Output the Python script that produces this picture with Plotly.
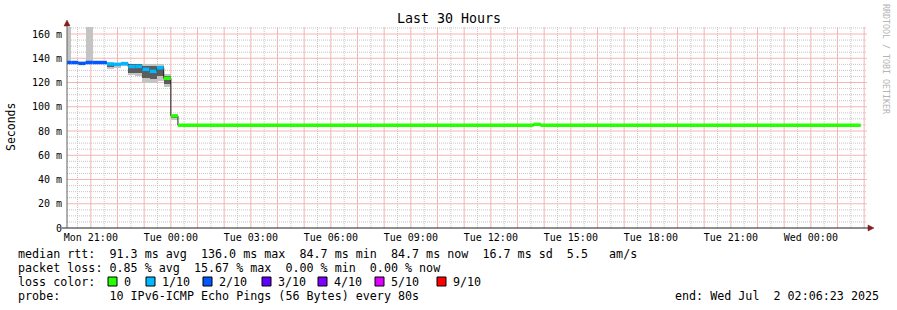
import plotly.graph_objects as go
import pandas as pd

# ---------------- data ----------------
run_start = ["2025-06-30 20:00", "2025-06-30 20:16", "2025-06-30 20:32", "2025-06-30 20:48",
             "2025-06-30 21:04", "2025-06-30 21:36", "2025-06-30 21:52", "2025-06-30 22:08",
             "2025-06-30 22:24", "2025-06-30 22:40", "2025-06-30 22:56", "2025-06-30 23:12",
             "2025-06-30 23:28", "2025-06-30 23:44", "2025-07-01 00:00", "2025-07-01 00:16",
             "2025-07-01 13:36", "2025-07-01 13:52"]
run_end = ["2025-06-30 20:16", "2025-06-30 20:32", "2025-06-30 20:48", "2025-06-30 21:04",
           "2025-06-30 21:36", "2025-06-30 21:52", "2025-06-30 22:08", "2025-06-30 22:24",
           "2025-06-30 22:40", "2025-06-30 22:56", "2025-06-30 23:12", "2025-06-30 23:28",
           "2025-06-30 23:44", "2025-07-01 00:00", "2025-07-01 00:16", "2025-07-01 13:36",
           "2025-07-01 13:52", "2025-07-02 01:52"]
median_ms = [136.5, 136.5, 135.8, 136.5, 136.5, 135.3, 135.0, 135.6, 133.2, 133.3,
             130.9, 129.2, 132.2, 123.5, 92.5, 84.7, 85.5, 84.7]
loss_count = [2, 2, 2, 2, 2, 1, 1, 1, 1, 1, 1, 1, 1, 0, 0, 0, 0, 0]
smoke_lo = [136.5, None, None, 136.5, None, 131.0, 132.0, 133.5, 126.0, 125.5,
            120.0, 120.0, 121.5, 116.0, 89.5, None, None, None]
smoke_hi = [175.0, None, None, 175.0, None, 136.5, 136.0, 136.5, 135.5, 135.5,
            135.0, 135.0, 135.5, 127.0, 93.0, None, None, None]
core_lo = [None, None, None, None, None, 133.0, 133.5, 134.5, 128.0, 128.0,
           123.5, 123.0, 125.0, 118.5, 91.0, None, None, None]
core_hi = [None, None, None, None, None, 135.5, 135.5, 136.0, 135.0, 135.0,
           134.0, 133.5, 134.0, 125.5, 92.5, None, None, None]

loss_labels = ["0", "1/10", "2/10", "3/10", "4/10", "5/10", "9/10"]
loss_colors = ["#26ff00", "#00b8ff", "#0059ff", "#5e00ff", "#7e00ff", "#dd00ff", "#ff0000"]

y_ticks = [0, 20, 40, 60, 80, 100, 120, 140, 160]
y_ticktext = ["0", "20 m", "40 m", "60 m", "80 m", "100 m", "120 m", "140 m", "160 m"]

stats_lines = [
    "median rtt:  91.3 ms avg  136.0 ms max  84.7 ms min  84.7 ms now  16.7 ms sd  5.5   am/s",
    "packet loss: 0.85 % avg  15.67 % max  0.00 % min  0.00 % now",
    "loss color:",
    "probe:       10 IPv6-ICMP Echo Pings (56 Bytes) every 80s",
]
end_text = "end: Wed Jul  2 02:06:23 2025"
title_text = "Last 30 Hours"

t_start = "2025-06-30 20:06:23"
t_end = "2025-07-02 02:06:23"

# ---------------- layout geometry ----------------
W, H = 897, 310
L, R, T, B = 67, 867, 27, 228
YMAX = 165.8
MONO = "DejaVu Sans Mono"


def px(x):
    return (x - L) / (R - L)


def py(y):
    return (B - y) / (B - T)


def ms(t):
    return pd.Timestamp(t)


fig = go.Figure()

# smoke (outer)
for s, e, lo, hi in zip(run_start, run_end, smoke_lo, smoke_hi):
    if lo is None:
        continue
    w = (ms(e) - ms(s)).total_seconds() * 1000
    fig.add_trace(go.Bar(x=[s], y=[hi - lo], base=[lo], width=[w], offset=0,
                         marker=dict(color="#c4c4c4", line=dict(width=0)),
                         hoverinfo="skip", showlegend=False))
# smoke (core)
for s, e, lo, hi in zip(run_start, run_end, core_lo, core_hi):
    if lo is None:
        continue
    w = (ms(e) - ms(s)).total_seconds() * 1000
    fig.add_trace(go.Bar(x=[s], y=[hi - lo], base=[lo], width=[w], offset=0,
                         marker=dict(color="#5c5c5c", line=dict(width=0)),
                         hoverinfo="skip", showlegend=False))

# thin black median (step line)
fig.add_trace(go.Scatter(x=run_start + [run_end[-1]], y=median_ms + [median_ms[-1]],
                         mode="lines", line=dict(color="#202020", width=1, shape="hv"),
                         hoverinfo="skip", showlegend=False))

# coloured median segments by loss
for li, col in enumerate(loss_colors):
    xs, ys = [], []
    for s, e, m, lc in zip(run_start, run_end, median_ms, loss_count):
        if lc == li:
            xs += [s, e, None]
            ys += [m, m, None]
    if xs:
        fig.add_trace(go.Scatter(x=xs, y=ys, mode="lines",
                                 line=dict(color=col, width=3.5),
                                 hoverinfo="skip", showlegend=False))

# ---------------- axes ----------------
major_x = pd.date_range("2025-06-30 21:00", "2025-07-02 02:00", freq="h")
major_txt = [d.strftime("%a %H:%M") if d.hour % 3 == 0 else "" for d in major_x]
minor_x = pd.date_range("2025-06-30 20:30", "2025-07-02 02:00", freq="h")
minor_y = [v for v in range(5, 170, 5) if v % 20 != 0]

MAJ = "#f6b4b4"
MIN = "#c6c6c6"
DASH = "1px,1px"

fig.update_xaxes(type="date", range=[t_start, t_end],
                 tickmode="array", tickvals=list(major_x), ticktext=major_txt,
                 showgrid=False, ticks="", ticklabelstandoff=2,
                 tickfont=dict(family=MONO, size=10, color="#000"),
                 zeroline=False, showline=False, fixedrange=True)
fig.update_yaxes(range=[0, YMAX], tickmode="array", tickvals=y_ticks, ticktext=y_ticktext,
                 showgrid=False, ticks="", ticklabelstandoff=4,
                 tickfont=dict(family=MONO, size=10, color="#000"),
                 zeroline=False, showline=False, fixedrange=True)

# ---------------- shapes: grid, axis lines, arrows, legend boxes ----------------
shapes = []
for t in minor_x:
    shapes.append(dict(type="line", xref="x", yref="paper", x0=t, x1=t, y0=0, y1=1,
                       line=dict(color=MIN, width=1, dash=DASH), layer="below"))
for v in minor_y:
    shapes.append(dict(type="line", xref="paper", yref="y", x0=0, x1=1, y0=v, y1=v,
                       line=dict(color=MIN, width=1, dash=DASH), layer="below"))
for t in major_x:
    shapes.append(dict(type="line", xref="x", yref="paper", x0=t, x1=t, y0=0, y1=1,
                       line=dict(color=MAJ, width=1), layer="below"))
for v in y_ticks[1:]:
    shapes.append(dict(type="line", xref="paper", yref="y", x0=0, x1=1, y0=v, y1=v,
                       line=dict(color=MAJ, width=1), layer="below"))

shapes.append(dict(type="line", xref="paper", yref="paper", x0=px(62), x1=px(868),
                   y0=0, y1=0, line=dict(color="#1f1f1f", width=1), layer="above"))
shapes.append(dict(type="line", xref="paper", yref="paper", x0=0, x1=0,
                   y0=0, y1=py(23), line=dict(color="#606060", width=1), layer="above"))
ARROW = "#801f1f"
shapes.append(dict(type="path", xref="paper", yref="paper",
                   path=f"M {px(64)} {py(26)} L {px(70)} {py(26)} L {px(67)} {py(20)} Z",
                   fillcolor=ARROW, line=dict(color=ARROW, width=0.5), layer="above"))
shapes.append(dict(type="path", xref="paper", yref="paper",
                   path=f"M {px(868)} {py(225)} L {px(868)} {py(231)} L {px(874)} {py(228)} Z",
                   fillcolor=ARROW, line=dict(color=ARROW, width=0.5), layer="above"))

box_x = [108, 146, 203, 262, 318, 375, 437]
annotations = []
for bx, lab, col in zip(box_x, loss_labels, loss_colors):
    shapes.append(dict(type="rect", xref="paper", yref="paper",
                       x0=px(bx), x1=px(bx + 9), y0=py(286), y1=py(277),
                       fillcolor=col, line=dict(color="#000", width=1)))
    annotations.append(dict(text=lab, xref="paper", yref="paper", x=px(bx + 14), y=py(282),
                            xanchor="left", yanchor="middle", showarrow=False,
                            font=dict(family=MONO, size=11.7, color="#000")))

# ---------------- text ----------------
line_y = [254, 268, 282, 296]
for txt, yy in zip(stats_lines, line_y):
    annotations.append(dict(text=txt.replace(" ", "\u00a0"), xref="paper", yref="paper",
                            x=px(16), y=py(yy), xanchor="left", yanchor="middle",
                            showarrow=False, font=dict(family=MONO, size=11.7, color="#000")))
annotations.append(dict(text=end_text.replace(" ", "\u00a0"), xref="paper", yref="paper",
                        x=px(881), y=py(296), xanchor="right", yanchor="middle",
                        showarrow=False, font=dict(family=MONO, size=11.7, color="#000")))
annotations.append(dict(text=title_text, xref="paper", yref="paper", x=px(448.5), y=py(19),
                        xanchor="center", yanchor="middle", showarrow=False,
                        font=dict(family=MONO, size=13.3, color="#000")))
annotations.append(dict(text="Seconds", xref="paper", yref="paper", x=px(11), y=py(127),
                        xanchor="center", yanchor="middle", textangle=-90, showarrow=False,
                        font=dict(family=MONO, size=11.5, color="#000")))
annotations.append(dict(text="RRDTOOL\u00a0/\u00a0TOBI\u00a0OETIKER", xref="paper", yref="paper",
                        x=px(886), y=py(59), xanchor="center", yanchor="middle", textangle=90,
                        showarrow=False, font=dict(family=MONO, size=8.3, color="#b4b4b4")))

fig.update_layout(width=W, height=H, margin=dict(l=L, r=W - R, t=T, b=H - B),
                  paper_bgcolor="white", plot_bgcolor="white",
                  barmode="overlay", bargap=0, showlegend=False,
                  shapes=shapes, annotations=annotations)

fig.write_html("out.html", config={"displayModeBar": False})
